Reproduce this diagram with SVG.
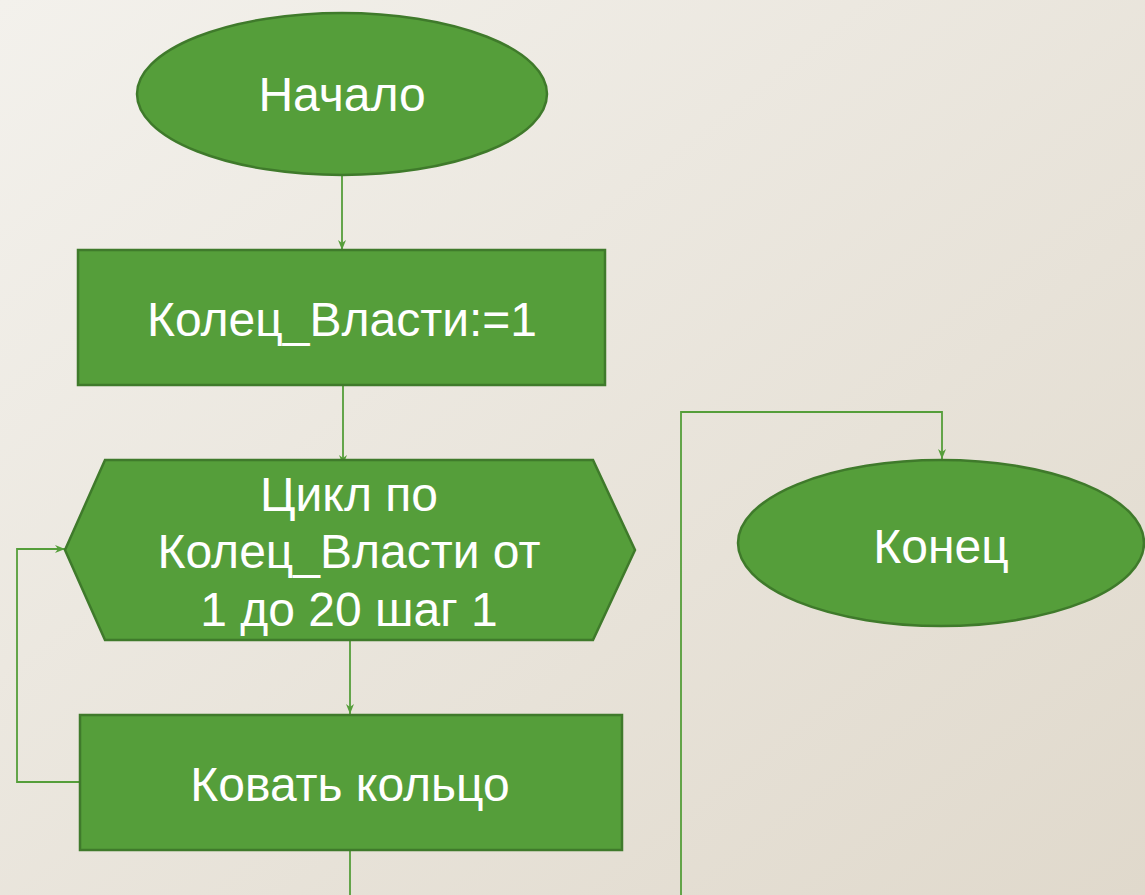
<svg xmlns="http://www.w3.org/2000/svg" width="1145" height="895" viewBox="0 0 1145 895">
<defs>
<linearGradient id="bg" x1="0" y1="0" x2="1" y2="1">
<stop offset="0" stop-color="#f3f1ec"/>
<stop offset="1" stop-color="#e0d9cc"/>
</linearGradient>
<marker id="arr" viewBox="0 0 10 10" refX="10" refY="5" markerWidth="10" markerHeight="10" markerUnits="userSpaceOnUse" orient="auto">
<path d="M0,1 L10,5 L0,9 L3,5 Z" fill="#559e3a"/>
</marker>
<style>
.shape{fill:#559e3a;stroke:#3f7a2b;stroke-width:2.5}
.lbl{fill:#ffffff;font-family:"Liberation Sans","DejaVu Sans",sans-serif;font-size:48px;text-anchor:middle}
.con{fill:none;stroke:#559e3a;stroke-width:1.8;marker-end:url(#arr)}
.con0{fill:none;stroke:#559e3a;stroke-width:1.8}
</style>
</defs>
<rect x="0" y="0" width="1145" height="895" fill="url(#bg)"/>
<g id="connectors">
<path class="con" d="M342,175 L342,250"/>
<path class="con" d="M343,386 L343,465"/>
<path class="con" d="M350,640 L350,714"/>
<path class="con" d="M80,782 L17,782 L17,549 L65,549"/>
<path class="con0" d="M350,850 L350,895"/>
<path class="con" d="M681,895 L681,412 L942,412 L942,459"/>
</g>
<g id="start">
<ellipse class="shape" cx="342" cy="94" rx="205" ry="81"/>
<text class="lbl" x="342" y="111">Начало</text>
</g>
<g id="init">
<rect class="shape" x="78" y="250" width="527" height="135"/>
<text class="lbl" x="342" y="336">Колец_Власти:=1</text>
</g>
<g id="loop">
<polygon class="shape" points="105,460 593,460 635,550 593,640 105,640 65,550"/>
<text class="lbl" x="349" y="511">Цикл по</text>
<text class="lbl" x="349" y="568">Колец_Власти от</text>
<text class="lbl" x="349" y="626">1 до 20 шаг 1</text>
</g>
<g id="forge">
<rect class="shape" x="80" y="715" width="542" height="135"/>
<text class="lbl" x="350" y="801">Ковать кольцо</text>
</g>
<g id="end">
<ellipse class="shape" cx="941" cy="543" rx="203" ry="83"/>
<text class="lbl" x="941" y="563">Конец</text>
</g>
</svg>
